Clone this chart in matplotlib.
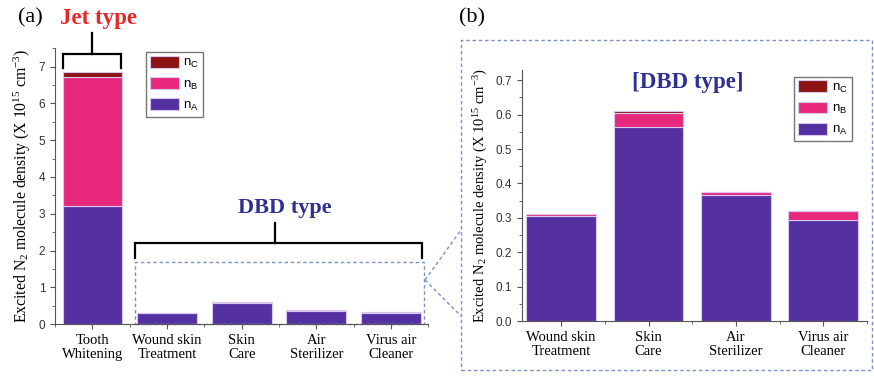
import matplotlib.pyplot as plt
from matplotlib.patches import Rectangle
from matplotlib.lines import Line2D
from matplotlib.ticker import MultipleLocator

# datos
cats_a = ['Tooth\nWhitening', 'Wound skin\nTreatment', 'Skin\nCare', 'Air\nSterilizer', 'Virus air\nCleaner']
n_a = [3.20, 0.305, 0.565, 0.367, 0.295]
n_b = [3.52, 0.005, 0.040, 0.008, 0.025]
n_c = [0.13, 0.002, 0.005, 0.001, 0.001]
cats_b = cats_a[1:]
etiquetas = [r'$\mathsf{n_C}$', r'$\mathsf{n_B}$', r'$\mathsf{n_A}$']

col_a = '#5530a0'
col_b = '#e8287a'
col_c = '#8b1414'
edge = '#d8c8f0'
serif = 'Liberation Serif'
sans = 'Liberation Sans'

plt.rcParams['mathtext.fontset'] = 'custom'
plt.rcParams['mathtext.rm'] = serif
plt.rcParams['mathtext.it'] = serif + ':italic'
plt.rcParams['mathtext.sf'] = sans

fig = plt.figure(figsize=(8.74, 3.76), dpi=100)
ax1 = fig.add_axes([0.063, 0.138, 0.427, 0.734])
ax2 = fig.add_axes([0.597, 0.146, 0.395, 0.668])


def barras(ax, cats, a, b, c, fs_lab):
    x = list(range(len(cats)))
    bot_c = [i + j for i, j in zip(a, b)]
    hA = ax.bar(x, a, 0.8, color=col_a, edgecolor=edge, linewidth=0.8)
    hB = ax.bar(x, b, 0.8, bottom=a, color=col_b, edgecolor=edge, linewidth=0.8)
    hC = ax.bar(x, c, 0.8, bottom=bot_c, color=col_c, edgecolor=edge, linewidth=0.8)
    ax.set_xticks(x)
    ax.set_xticklabels(cats, fontfamily=serif, fontsize=10.5, linespacing=1.1)
    ax.xaxis.set_minor_locator(MultipleLocator(0.5))
    for s in ['top', 'right']:
        ax.spines[s].set_visible(False)
    for s in ['left', 'bottom']:
        ax.spines[s].set_color('#555555')
    ax.tick_params(axis='both', which='both', direction='out', color='#555555')
    ax.tick_params(axis='y', labelsize=8.5, labelcolor='#333333')
    ax.set_ylabel('Excited N$_2$ molecule density (X 10$^{15}$ cm$^{-3}$)',
                  fontfamily=serif, fontsize=fs_lab)
    ax.legend([hC, hB, hA], etiquetas, loc='upper left', fancybox=False, edgecolor='#777777',
              fontsize=9.5, handlelength=2.2, handleheight=1.0, borderpad=0.3,
              labelspacing=0.5, handletextpad=0.35, framealpha=1)
    return ax.get_legend()


leg1 = barras(ax1, cats_a, n_a, n_b, n_c, 11.3)
ax1.set_xlim(-0.5, 4.5)
ax1.set_ylim(0, 7.5)
ax1.yaxis.set_major_locator(MultipleLocator(1))
ax1.yaxis.set_minor_locator(MultipleLocator(0.5))
for t in ax1.get_yticklabels():
    t.set_fontfamily(sans)
leg1.set_bbox_to_anchor((0.225, 1.01), transform=ax1.transAxes)

leg2 = barras(ax2, cats_b, n_a[1:], n_b[1:], n_c[1:], 10.5)
ax2.set_xlim(-0.45, 3.5)
ax2.set_ylim(0, 0.73)
ax2.yaxis.set_major_locator(MultipleLocator(0.1))
ax2.yaxis.set_minor_locator(MultipleLocator(0.05))
for t in ax2.get_yticklabels():
    t.set_fontfamily(sans)
leg2.set_bbox_to_anchor((0.77, 1.0), transform=ax2.transAxes)
ax2.text(0.48, 0.99, '[DBD type]', transform=ax2.transAxes, ha='center', va='top',
         fontfamily=serif, fontweight='bold', fontsize=16.5, color='#2e3192')

# corchetes
k = dict(color='black', lw=1.6, clip_on=False, solid_joinstyle='miter')
ax1.plot([-0.39, -0.39, 0.39, 0.39], [6.95, 7.35, 7.35, 6.95], **k)
ax1.plot([0, 0], [7.35, 7.92], **k)
ax1.text(0.08, 8.3, 'Jet type', ha='center', va='center', fontfamily=serif,
         fontweight='bold', fontsize=16.5, color='#e8262a', clip_on=False)
ax1.plot([0.57, 0.57, 4.42, 4.42], [1.79, 2.2, 2.2, 1.79], **k)
ax1.plot([2.45, 2.45], [2.2, 2.74], **k)
ax1.text(2.58, 3.15, 'DBD type', ha='center', va='center', fontfamily=serif,
         fontweight='bold', fontsize=16, color='#2e3192')

# recuadros punteados
dash = dict(color='#7f8fc8', lw=1.0, ls=(0, (2.5, 2)))
ax1.add_patch(Rectangle((0.573, 0), 3.867, 1.68, fill=False, clip_on=False, **dash))
fig.add_artist(Rectangle((461 / 874, 1 - 370 / 376), 411 / 874, 330 / 376,
                         fill=False, transform=fig.transFigure, **dash))
fig.add_artist(Line2D([425 / 874, 461 / 874], [1 - 280 / 376, 1 - 230 / 376],
                      transform=fig.transFigure, **dash))
fig.add_artist(Line2D([425 / 874, 461 / 874], [1 - 280 / 376, 1 - 316 / 376],
                      transform=fig.transFigure, **dash))

fig.text(30 / 874, 1 - 18 / 376, '(a)', ha='center', va='center', fontfamily=serif, fontsize=16)
fig.text(472 / 874, 1 - 18 / 376, '(b)', ha='center', va='center', fontfamily=serif, fontsize=16)

fig.savefig('out.png', dpi=100)
